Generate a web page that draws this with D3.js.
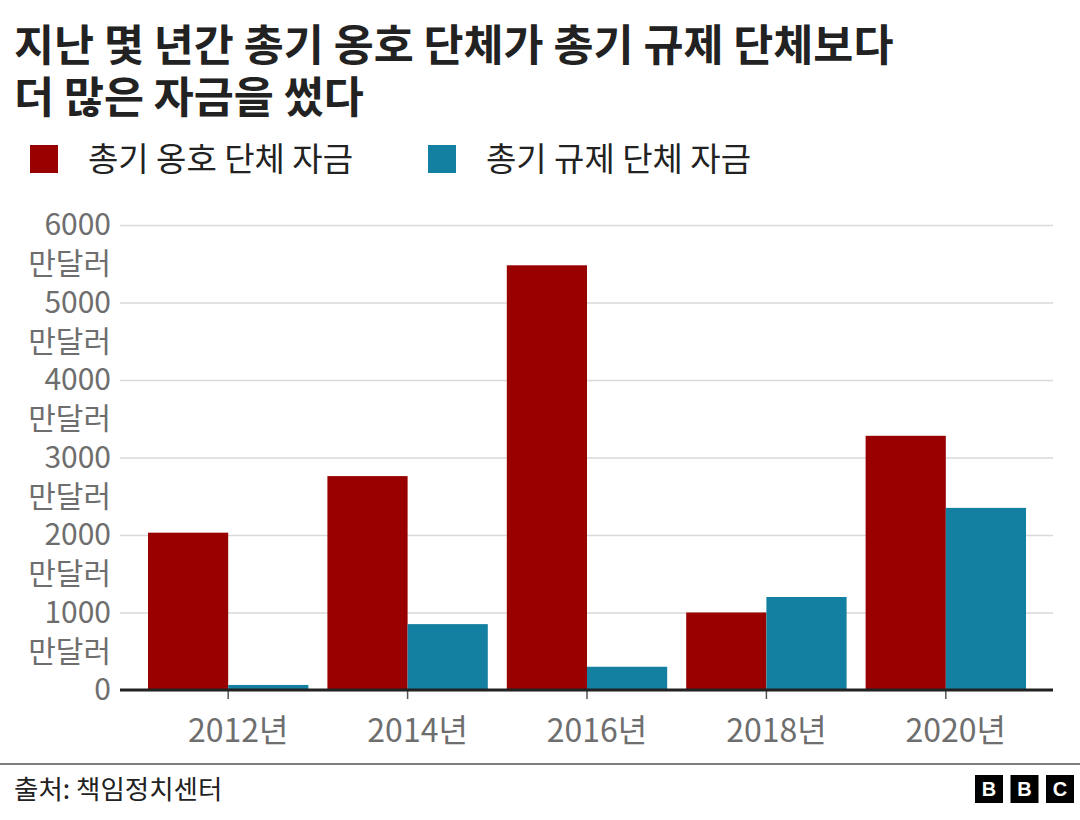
<!DOCTYPE html>
<html>
<head>
<meta charset="utf-8">
<script src="https://cdn.jsdelivr.net/npm/d3@7"></script>
<style>
  body { margin: 0; background: #fff; }
  svg { display: block; font-family: "Noto Sans CJK KR", "Noto Sans", sans-serif; }
</style>
</head>
<body>
<svg id="chart" width="1080" height="820"></svg>
<script>
const years = ['2012년', '2014년', '2016년', '2018년', '2020년'];
const gunRights = [2030, 2760, 5480, 1000, 3280];   // 총기 옹호 단체 자금 (만달러)
const gunControl = [65, 850, 300, 1200, 2350];      // 총기 규제 단체 자금 (만달러)
const yTicks = [0, 1000, 2000, 3000, 4000, 5000, 6000];
const seriesNames = ['총기 옹호 단체 자금', '총기 규제 단체 자금'];
const titleLines = ['지난 몇 년간 총기 옹호 단체가 총기 규제 단체보다', '더 많은 자금을 썼다'];
const sourceText = '출처: 책임정치센터';

const colors = ['#990000', '#1380a1'];

const svg = d3.select('#chart');
const width = 1080;

// title
svg.selectAll('.title').data(titleLines)
  .enter().append('text')
  .attr('class', 'title')
  .attr('x', 14)
  .attr('y', (d, i) => 61 + i * 52)
  .attr('font-size', 43.5)
  .attr('font-weight', 700)
  .attr('fill', '#222')
  .text(d => d);

// legend
const legendX = [30, 428];
const legend = svg.selectAll('.legend').data(seriesNames)
  .enter().append('g')
  .attr('class', 'legend')
  .attr('transform', (d, i) => `translate(${legendX[i]},145)`);
legend.append('rect')
  .attr('width', 28).attr('height', 28)
  .attr('fill', (d, i) => colors[i]);
legend.append('text')
  .attr('x', 58).attr('y', 14).attr('dy', '0.36em')
  .attr('font-size', 33)
  .attr('fill', '#222')
  .text(d => d);

// scales
const plotLeft = 120, plotRight = 1053;
const x = d3.scaleBand().domain(years).range([148, 1026]).paddingInner(0.106);
const xSub = d3.scaleBand().domain([0, 1]).range([0, x.bandwidth()]);
const y = d3.scaleLinear().domain([0, 6000]).range([690, 225]);

// y axis with gridlines
const yAxis = svg.append('g')
  .attr('transform', `translate(${plotLeft},0)`)
  .call(d3.axisLeft(y).tickValues(yTicks).tickSize(-(plotRight - plotLeft)).tickPadding(10));
yAxis.select('.domain').remove();
yAxis.selectAll('.tick line').attr('stroke', '#d9d9d9').attr('stroke-width', 1.5);
yAxis.selectAll('.tick text')
  .attr('font-size', 30)
  .attr('fill', '#6e6e6e')
  .attr('font-family', '"Noto Sans CJK KR", sans-serif')
  .each(function(d) {
    const t = d3.select(this).text('');
    t.append('tspan').attr('x', -9).text(d);
    if (d !== 0) t.append('tspan').attr('x', -9).attr('dy', '1.3em').text('만달러');
  });

// bars
const groups = svg.append('g').selectAll('g').data(years)
  .enter().append('g')
  .attr('transform', d => `translate(${x(d)},0)`);
groups.selectAll('rect')
  .data((d, i) => [gunRights[i], gunControl[i]])
  .enter().append('rect')
  .attr('x', (d, j) => xSub(j))
  .attr('width', xSub.bandwidth())
  .attr('y', d => y(d))
  .attr('height', d => y(0) - y(d))
  .attr('fill', (d, j) => colors[j]);

// x axis
const xAxis = svg.append('g')
  .attr('transform', `translate(0,${y(0)})`)
  .call(d3.axisBottom(x).tickSize(9).tickPadding(20).tickSizeOuter(0));
xAxis.select('.domain').remove();
xAxis.selectAll('.tick line').attr('stroke', '#555').attr('stroke-width', 1.5);
xAxis.selectAll('.tick text')
  .attr('font-size', 32)
  .attr('dx', 10)
  .attr('fill', '#6e6e6e')
  .attr('font-family', '"Noto Sans CJK KR", sans-serif');
svg.append('line')
  .attr('x1', plotLeft).attr('x2', plotRight)
  .attr('y1', y(0)).attr('y2', y(0))
  .attr('stroke', '#222').attr('stroke-width', 3);

// footer
svg.append('line')
  .attr('x1', 0).attr('x2', width)
  .attr('y1', 764).attr('y2', 764)
  .attr('stroke', '#555').attr('stroke-width', 1.5);
svg.append('text')
  .attr('x', 14).attr('y', 799)
  .attr('font-size', 26.5)
  .attr('fill', '#222')
  .text(sourceText);

// BBC blocks
const logo = svg.append('g').selectAll('g').data(['B', 'B', 'C'])
  .enter().append('g')
  .attr('transform', (d, i) => `translate(${975 + i * 35.5},775)`);
logo.append('rect').attr('width', 28).attr('height', 28).attr('fill', '#000');
logo.append('text')
  .attr('x', 14).attr('y', 14).attr('dy', '0.36em')
  .attr('text-anchor', 'middle')
  .attr('font-family', '"Liberation Sans", Arial, sans-serif')
  .attr('font-weight', 700)
  .attr('font-size', 20)
  .attr('fill', '#fff')
  .text(d => d);
</script>
</body>
</html>
